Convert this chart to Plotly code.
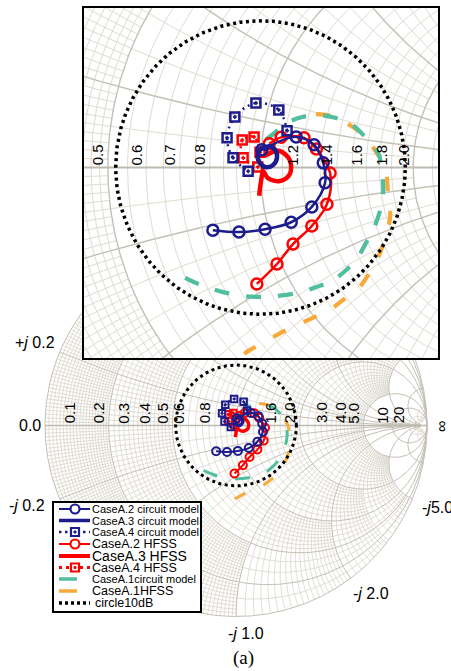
import numpy as np
import plotly.graph_objects as go

W, H = 451, 671

# ---------------- data: reflection coefficient (Re, Im) ----------------
caseA2_circuit_re = [0.003, 0.078, 0.117, 0.137, 0.141, 0.112, 0.067, 0.010, -0.047, -0.104]
caseA2_circuit_im = [0.038, 0.066, 0.049, 0.010, -0.033, -0.085, -0.118, -0.133, -0.139, -0.135]

caseA3_circuit_re = [0.006, 0.019, 0.032, 0.036, 0.027, 0.010, -0.003, -0.006, 0.003, 0.016]
caseA3_circuit_im = [0.038, 0.046, 0.038, 0.021, 0.005, 0.001, 0.012, 0.029, 0.042, 0.044]

caseA4_circuit_re = [0.058, 0.040, -0.010, -0.056, -0.073, -0.060, -0.027]
caseA4_circuit_im = [0.079, 0.124, 0.139, 0.109, 0.064, 0.021, -0.008]

caseA2_hfss_re = [0.019, 0.045, 0.095, 0.122, 0.152, 0.145, 0.112, 0.071, 0.036, -0.008]
caseA2_hfss_im = [0.051, 0.065, 0.064, 0.040, -0.012, -0.079, -0.126, -0.165, -0.208, -0.251]

caseA3_hfss_re = [0.010, 0.040, 0.064, 0.064, 0.043, 0.016, 0.006, 0.001, -0.003]
caseA3_hfss_im = [0.025, 0.036, 0.016, -0.014, -0.029, -0.023, -0.008, -0.031, -0.061]

caseA4_hfss_re = [-0.001, -0.014, -0.040, -0.038, -0.006]
caseA4_hfss_im = [0.033, 0.066, 0.059, 0.021, 0.001]

caseA1_circuit_re = [0.012, 0.025, 0.058, 0.091, 0.130, 0.163, 0.200, 0.230, 0.257, 0.265,
                     0.268, 0.263, 0.246, 0.230, 0.213, 0.187, 0.158, 0.121, 0.078, 0.034,
                     -0.003, -0.038, -0.084, -0.117, -0.154, -0.176]
caseA1_circuit_im = [0.061, 0.070, 0.096, 0.109, 0.113, 0.107, 0.092, 0.064, 0.031, -0.010,
                     -0.049, -0.085, -0.135, -0.163, -0.193, -0.221, -0.243, -0.258, -0.271, -0.277,
                     -0.279, -0.277, -0.268, -0.258, -0.243, -0.232]

caseA1_hfss_re = [0.121, 0.163, 0.202, 0.230, 0.254, 0.272, 0.278, 0.283, 0.272, 0.261,
                  0.246, 0.211, 0.189, 0.145, 0.119, 0.071, 0.043, 0.006, -0.023, -0.040]
caseA1_hfss_im = [0.115, 0.109, 0.087, 0.064, 0.031, 0.001, -0.049, -0.107, -0.152, -0.184,
                  -0.214, -0.264, -0.279, -0.311, -0.322, -0.344, -0.357, -0.378, -0.393, -0.405]

circle_level_db = -10.0

# r labels on the real axis
main_r_labels = [0.1, 0.2, 0.3, 0.4, 0.5, 0.6, 0.8, 1.6, 2.0, 3.0, 4.0, 5.0, 10, 20]
main_r_texts = ["0.1", "0.2", "0.3", "0.4", "0.5", "0.6", "0.8", "1.6", "2.0", "3.0", "4.0", "5.0", "10", "20"]
inset_r_labels = [0.5, 0.6, 0.7, 0.8, 1.2, 1.4, 1.6, 1.8, 2.0]
inset_r_texts = ["0.5", "0.6", "0.7", "0.8", "1.2", "1.4", "1.6", "1.8", "2.0"]

# ---------------- Smith chart grid construction ----------------
LEV_R = [0.2, 0.5, 1.0, 2.0, 5.0, 10.0, 20.0, 50.0]
LEV_X = [0.5, 1.0, 2.0, 3.0, 5.0, 10.0, 20.0, 50.0]
STEP = [0.01, 0.02, 0.05, 0.1, 0.2, 5.0, 10.0, 10.0]
MAJOR = [0.2, 0.5, 1.0, 2.0, 5.0, 10.0]


def gam(z):
    return (z - 1) / (z + 1)


def level(v, bounds):
    for i, b in enumerate(bounds):
        if v < b - 1e-9:
            return i
    return len(bounds)


def is_mult(v, s):
    q = v / s
    return abs(q - round(q)) < 1e-6


def candidates(bounds):
    vals = set()
    lo = 0.0
    for i, b in enumerate(bounds):
        s = STEP[i]
        k = int(round(lo / s))
        while k * s <= b + 1e-9:
            v = round(k * s, 6)
            if v > 0:
                vals.add(v)
            k += 1
        lo = b
    return sorted(vals)


def extent(v, own, other):
    lv = level(v, own)
    ext = 0.0
    for j in range(len(other)):
        L = max(lv, j)
        if L >= len(STEP) or not is_mult(v, STEP[L]):
            break
        ext = other[j]
    return ext


def r_arc(r, X):
    c = r / (1 + r)
    R = 1 / (1 + r)
    if np.isinf(X):
        th1 = 0.0
    else:
        th1 = np.angle(gam(r + 1j * X) - c)
    n = max(8, int(R * (2 * np.pi - 2 * th1) * 120))
    th = np.linspace(th1, 2 * np.pi - th1, n)
    return c + R * np.exp(1j * th)


def x_arc(xa, Rmax):
    C = 1 + 1j / xa
    R = 1 / xa
    a0 = np.angle(gam(1j * xa) - C) % (2 * np.pi)
    if np.isinf(Rmax):
        a1 = (-np.pi / 2) % (2 * np.pi)
    else:
        a1 = np.angle(gam(Rmax + 1j * xa) - C) % (2 * np.pi)
    if a1 < a0:
        a1 += 2 * np.pi
    n = max(6, int(R * (a1 - a0) * 120))
    th = np.linspace(a0, a1, n)
    return C + R * np.exp(1j * th)


minor_curves, major_curves = [], []
for r in candidates(LEV_R):
    ext = extent(r, LEV_R, LEV_X)
    if ext > 0 and r not in MAJOR:
        minor_curves.append(r_arc(r, ext))
for x in candidates(LEV_X):
    ext = extent(x, LEV_X, LEV_R)
    if ext > 0 and x not in MAJOR:
        g = x_arc(x, ext)
        minor_curves.append(g)
        minor_curves.append(np.conj(g))
for v in MAJOR:
    major_curves.append(r_arc(v, np.inf))
    g = x_arc(v, 60.0)
    major_curves.append(g)
    major_curves.append(np.conj(g))
major_curves.append(r_arc(0.0, np.inf))


def pack(curves):
    xs, ys = [], []
    for g in curves:
        g = np.round(g, 4)
        xs.extend(g.real.tolist())
        xs.append(None)
        ys.extend(g.imag.tolist())
        ys.append(None)
    return xs, ys


minor_x, minor_y = pack(minor_curves)
major_x, major_y = pack(major_curves)

NAVY = "#1c1c8c"
RED = "#ff0000"
TEAL = "#52bea0"
ORANGE = "#f9a93a"

fig = go.Figure()


def add_grid(xa, ya, cmin, wmin, wmaj, wax):
    fig.add_trace(go.Scatter(x=minor_x, y=minor_y, mode="lines", xaxis=xa, yaxis=ya,
                             line=dict(color=cmin, width=wmin), hoverinfo="skip"))
    fig.add_trace(go.Scatter(x=major_x, y=major_y, mode="lines", xaxis=xa, yaxis=ya,
                             line=dict(color="#c4c0b6", width=wmaj), hoverinfo="skip"))
    fig.add_trace(go.Scatter(x=[-1, 1], y=[0, 0], mode="lines", xaxis=xa, yaxis=ya,
                             line=dict(color="#bdbab2", width=wax), hoverinfo="skip"))


def add_data(xa, ya, s):
    thin, thick, csz, ssz, mlw = s["thin"], s["thick"], s["csz"], s["ssz"], s["mlw"]
    fig.add_trace(go.Scatter(x=caseA1_hfss_re, y=caseA1_hfss_im, mode="lines", xaxis=xa, yaxis=ya,
                             name="CaseA.1HFSS", line=dict(color=ORANGE, width=s["dw"], dash=s["odash"], shape="spline")))
    fig.add_trace(go.Scatter(x=caseA1_circuit_re, y=caseA1_circuit_im, mode="lines", xaxis=xa, yaxis=ya,
                             name="CaseA.1circuit model", line=dict(color=TEAL, width=s["dw"], dash=s["tdash"], shape="spline")))
    fig.add_trace(go.Scatter(x=caseA4_hfss_re, y=caseA4_hfss_im, mode="lines+markers", xaxis=xa, yaxis=ya,
                             name="CaseA.4 HFSS", line=dict(color=RED, width=thin, dash="2px,4px", shape="spline"),
                             marker=dict(symbol="square-open-dot", size=ssz, color=RED, line=dict(color=RED, width=mlw))))
    fig.add_trace(go.Scatter(x=caseA2_hfss_re, y=caseA2_hfss_im, mode="lines+markers", xaxis=xa, yaxis=ya,
                             name="CaseA.2 HFSS", line=dict(color=RED, width=thin, shape="spline"),
                             marker=dict(symbol="circle-open", size=csz, color=RED, line=dict(color=RED, width=mlw))))
    fig.add_trace(go.Scatter(x=caseA3_hfss_re, y=caseA3_hfss_im, mode="lines", xaxis=xa, yaxis=ya,
                             name="CaseA.3 HFSS", line=dict(color=RED, width=thick, shape="spline")))
    fig.add_trace(go.Scatter(x=caseA4_circuit_re, y=caseA4_circuit_im, mode="lines+markers", xaxis=xa, yaxis=ya,
                             name="CaseA.4 circuit model", line=dict(color=NAVY, width=thin, dash="2px,4px", shape="spline"),
                             marker=dict(symbol="square-open-dot", size=ssz, color=NAVY, line=dict(color=NAVY, width=mlw))))
    fig.add_trace(go.Scatter(x=caseA3_circuit_re, y=caseA3_circuit_im, mode="lines", xaxis=xa, yaxis=ya,
                             name="CaseA.3 circuit model", line=dict(color=NAVY, width=thick, shape="spline")))
    fig.add_trace(go.Scatter(x=caseA2_circuit_re, y=caseA2_circuit_im, mode="lines+markers", xaxis=xa, yaxis=ya,
                             name="CaseA.2 circuit model", line=dict(color=NAVY, width=thin, shape="spline"),
                             marker=dict(symbol="circle-open", size=csz, color=NAVY, line=dict(color=NAVY, width=mlw))))
    rad = 10 ** (circle_level_db / 20)
    th = np.linspace(0, 2 * np.pi, 361)
    fig.add_trace(go.Scatter(x=np.round(rad * np.cos(th), 4), y=np.round(rad * np.sin(th), 4), mode="lines",
                             xaxis=xa, yaxis=ya, name="circle10dB",
                             line=dict(color="black", width=s["cw"], dash="3px,3.5px")))


MAIN_STYLE = dict(thin=2.0, thick=3.5, csz=8, ssz=6.5, mlw=2.0, dw=3.0, cw=3.0,
                  odash="12px,20px", tdash="15px,18px")
INSET_STYLE = dict(thin=2.5, thick=4.5, csz=11, ssz=9, mlw=2.5, dw=4.2, cw=3.5,
                   odash="14px,20px", tdash="15px,17px")

add_grid("x", "y", "#d9d5ca", 0.8, 1.0, 1.6)
add_data("x", "y", MAIN_STYLE)
add_grid("x2", "y2", "#dfdbd0", 1.0, 1.4, 2.2)
add_data("x2", "y2", INSET_STYLE)

# ---------------- layout / axes ----------------
MC, MY, MK = 236.0, 425.5, 191.0          # main chart centre (px) and px per unit
IX0, IX1, IY0, IY1 = 84, 438, 8, 358      # inset frame (px)
ICX, ICY, IKX, IKY = 260.5, 167.5, 458.0, 464.0

FONT = "Liberation Sans, Arial, sans-serif"


def px(x):
    return x / W


def py(y):
    return 1 - y / H


annotations = []
for r, t in zip(main_r_labels, main_r_texts):
    annotations.append(dict(x=(r - 1) / (r + 1), y=0, xref="x", yref="y", text=t, textangle=-90,
                            xanchor="right", yanchor="bottom", showarrow=False,
                            font=dict(family=FONT, size=15, color="black")))
for r, t in zip(inset_r_labels, inset_r_texts):
    annotations.append(dict(x=(r - 1) / (r + 1), y=0, xref="x2", yref="y2", text=t, textangle=-90,
                            xanchor="right", yanchor="bottom", showarrow=False,
                            font=dict(family=FONT, size=15, color="black")))

side_labels = [
    ("+<i>j</i> 0.2", 57, 343, "right"),
    ("0.0", 43, 425, "right"),
    ("-<i>j</i> 0.2", 47, 505, "right"),
    ("-<i>j</i> 1.0", 246, 633, "center"),
    ("-<i>j</i> 2.0", 371, 593, "center"),
    ("-<i>j</i>5.0", 420, 507, "left"),
]
for t, x, y, xa in side_labels:
    annotations.append(dict(x=px(x), y=py(y), xref="paper", yref="paper", text=t, showarrow=False,
                            xanchor=xa, yanchor="middle", font=dict(family=FONT, size=16, color="black")))
annotations.append(dict(x=px(441), y=py(427), xref="paper", yref="paper", text="∞", textangle=-90,
                        showarrow=False, xanchor="center", yanchor="middle",
                        font=dict(family=FONT, size=16, color="black")))
annotations.append(dict(x=px(243), y=py(658), xref="paper", yref="paper", text="(a)", showarrow=False,
                        xanchor="center", yanchor="middle",
                        font=dict(family="Liberation Serif, Times New Roman, serif", size=19, color="black")))

# ---------------- hand-drawn legend ----------------
legend_rows = [
    ("CaseA.2 circuit model", NAVY, "solid", 2.0, "circle", 11, 509),
    ("CaseA.3 circuit model", NAVY, "solid", 3.5, None, 11, 520.5),
    ("CaseA.4 circuit model", NAVY, "2.5px,3.5px", 2.5, "square", 11, 532),
    ("CaseA.2 HFSS", RED, "solid", 2.0, "circle", 12.5, 544),
    ("CaseA.3 HFSS", RED, "solid", 4.0, None, 14, 556),
    ("CaseA.4 HFSS", RED, "3px,4px", 3.0, "square", 12.5, 567.5),
    ("CaseA.1circuit model", TEAL, "teal", 3.5, None, 11, 579),
    ("CaseA.1HFSS", ORANGE, "teal", 3.5, None, 12.5, 591),
    ("circle10dB", "black", "3px,3px", 3.5, None, 12.5, 603),
]
shapes = [dict(type="rect", xref="paper", yref="paper", x0=px(53), x1=px(201), y0=py(612), y1=py(502),
               line=dict(color="black", width=2), fillcolor="white", layer="above")]
for name, col, dash, lw, sym, fs, yy in legend_rows:
    if dash == "teal":
        shapes.append(dict(type="line", xref="paper", yref="paper", x0=px(59), x1=px(77), y0=py(yy), y1=py(yy),
                           line=dict(color=col, width=lw), layer="above"))
    else:
        shapes.append(dict(type="line", xref="paper", yref="paper", x0=px(59), x1=px(90), y0=py(yy), y1=py(yy),
                           line=dict(color=col, width=lw, dash=dash), layer="above"))
    if sym == "circle":
        shapes.append(dict(type="circle", xref="paper", yref="paper", x0=px(70.5), x1=px(79.5),
                           y0=py(yy + 4.5), y1=py(yy - 4.5), line=dict(color=col, width=2.2),
                           fillcolor="white", layer="above"))
    elif sym == "square":
        shapes.append(dict(type="rect", xref="paper", yref="paper", x0=px(71), x1=px(79),
                           y0=py(yy + 4), y1=py(yy - 4), line=dict(color=col, width=2.2),
                           fillcolor="white", layer="above"))
        shapes.append(dict(type="rect", xref="paper", yref="paper", x0=px(74), x1=px(76),
                           y0=py(yy + 1), y1=py(yy - 1), line=dict(color=col, width=1),
                           fillcolor=col, layer="above"))
    tx = 94 if name == "circle10dB" else 91
    annotations.append(dict(x=px(tx), y=py(yy), xref="paper", yref="paper", text=name, showarrow=False,
                            xanchor="left", yanchor="middle", borderpad=0,
                            font=dict(family=FONT, size=fs, color="black")))

fig.update_layout(
    width=W, height=H, margin=dict(l=0, r=0, t=0, b=0, pad=0),
    paper_bgcolor="white", plot_bgcolor="white",
    showlegend=False, hovermode=False,
    xaxis=dict(domain=[0, 1], range=[-MC / MK, (W - MC) / MK], visible=False, fixedrange=True),
    yaxis=dict(domain=[0, 1], range=[-(H - MY) / MK, MY / MK], visible=False, fixedrange=True),
    xaxis2=dict(domain=[IX0 / W, IX1 / W], range=[(IX0 - ICX) / IKX, (IX1 - ICX) / IKX], anchor="y2",
                showgrid=False, zeroline=False, showticklabels=False, ticks="", showline=True, mirror=True,
                linecolor="black", linewidth=1.5, fixedrange=True),
    yaxis2=dict(domain=[1 - IY1 / H, 1 - IY0 / H], range=[(ICY - IY1) / IKY, (ICY - IY0) / IKY], anchor="x2",
                showgrid=False, zeroline=False, showticklabels=False, ticks="", showline=True, mirror=True,
                linecolor="black", linewidth=1.5, fixedrange=True),
    annotations=annotations,
    shapes=shapes,
)

fig.write_html("out.html", config={"displayModeBar": False})
